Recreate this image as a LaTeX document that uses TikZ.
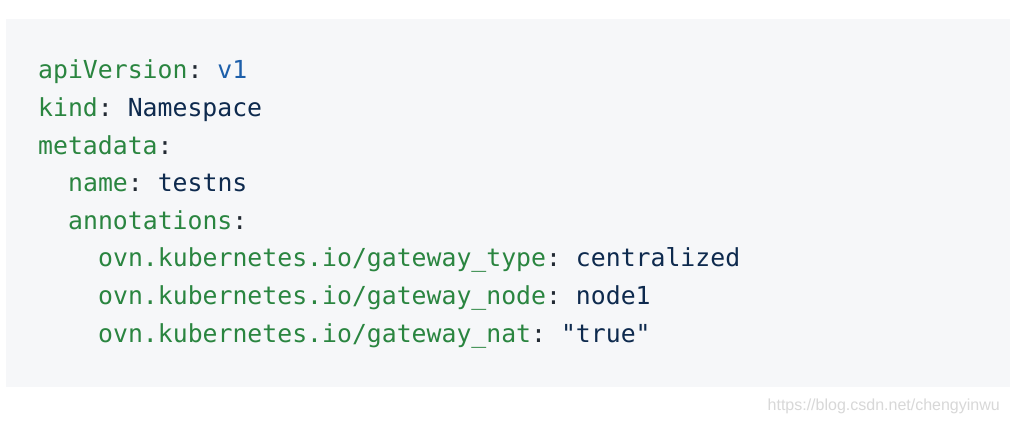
\documentclass[tikz,border=0pt]{standalone}
\usepackage{fontspec}
\setmonofont{DejaVu Sans Mono}
\setmainfont{Liberation Sans}
\definecolor{bgbox}{HTML}{F6F7F9}
\definecolor{keyc}{HTML}{2A8540}
\definecolor{numc}{HTML}{1D5FAA}
\definecolor{valc}{HTML}{0E2A4E}
\definecolor{punc}{HTML}{222A33}
\definecolor{wmark}{HTML}{D8D8D8}
\newcommand{\K}[1]{\textcolor{keyc}{#1}}
\newcommand{\V}[1]{\textcolor{valc}{#1}}
\newcommand{\C}{\textcolor{punc}{:}}
\begin{document}
\begin{tikzpicture}[x=1pt,y=-1pt,
  codeline/.style={anchor=base west,inner sep=0pt,font=\ttfamily\fontsize{24.8}{30}\selectfont}]
\useasboundingbox (0,0) rectangle (1010,422);
\fill[white] (0,0) rectangle (1010,422);
\fill[bgbox] (6,19) rectangle (1010,387);
\node[codeline] (l1) at (38,79) {\K{apiVersion}\C{} \textcolor{numc}{v1}};
\node[codeline] (l2) at (38,116.6) {\K{kind}\C{} \V{Namespace}};
\node[codeline] (l3) at (38,154.2) {\K{metadata}\C};
\node[codeline] (l4) at (68,191.8) {\K{name}\C{} \V{testns}};
\node[codeline] (l5) at (68,229.4) {\K{annotations}\C};
\node[codeline] (l6) at (98,267) {\K{ovn.kubernetes.io/gateway\_type}\C{} \V{centralized}};
\node[codeline] (l7) at (98,304.6) {\K{ovn.kubernetes.io/gateway\_node}\C{} \V{node1}};
\node[codeline] (l8) at (98,342.2) {\K{ovn.kubernetes.io/gateway\_nat}\C{} \V{"true"}};
\node[anchor=base east,inner sep=0pt,text=wmark,font=\fontsize{16}{19}\selectfont] (wm) at (1000,410) {https://blog.csdn.net/chengyinwu};
\end{tikzpicture}
\end{document}
